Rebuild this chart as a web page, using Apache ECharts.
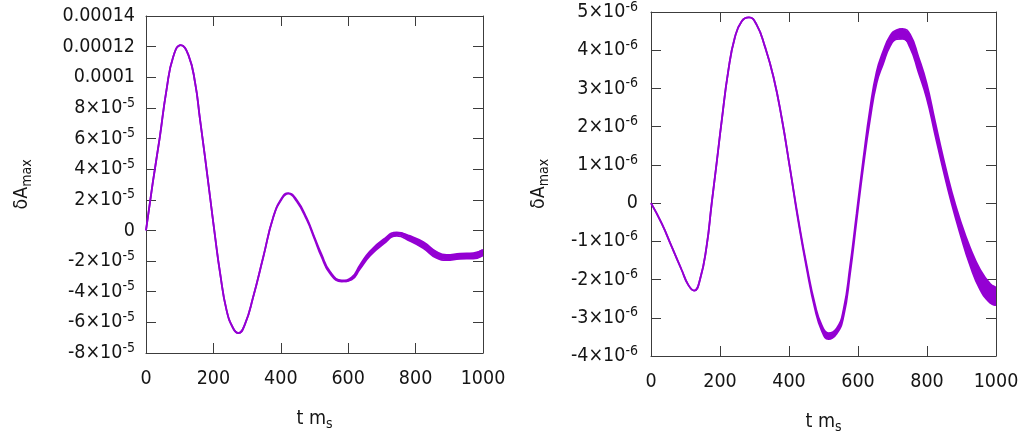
<!DOCTYPE html>
<html>
<head>
<meta charset="utf-8">
<script src="https://cdn.jsdelivr.net/npm/echarts@6/dist/echarts.min.js"></script>
<style>
  html, body { margin: 0; padding: 0; background: #fff; }
  #chart { width: 1025px; height: 439px; }
</style>
</head>
<body>
<div id="chart"></div>
<script>
// left panel, values in units of 1e-5
const leftT = [0, 20, 41, 61, 81, 103, 126, 146, 160, 175, 190, 205, 220, 239, 259, 274, 294, 318, 348, 378,
  403, 422, 447, 477, 500, 520, 546, 581, 610, 635, 665, 704, 744, 783, 823, 862, 892, 932, 971, 1000]
const leftV = [0, 3.1, 6.1, 9.2, 11.35, 12.1, 11.45, 9.6, 7.3, 4.8, 2.2, -0.4, -2.8, -5.2, -6.4, -6.7, -6.1, -4.35, -1.73, 0.89,
  2.09, 2.42, 1.95, 0.75, -0.5, -1.6, -2.75, -3.3, -3.14, -2.38, -1.5, -0.74, -0.24, -0.52, -0.96, -1.6, -1.77, -1.68, -1.66, -1.45]
// half width of the fast oscillation band
const leftSpread = [0, 0, 0, 0, 0, 0, 0, 0, 0, 0, 0, 0, 0, 0, 0, 0, 0, 0, 0, 0,
  0.03, 0.02, 0.05, 0.05, 0.05, 0.08, 0.06, 0.04, 0.07, 0.13, 0.15, 0.15, 0.12, 0.16, 0.2, 0.2, 0.17, 0.17, 0.18, 0.19]
const leftYLabels = [['-8', '-5'], ['-6', '-5'], ['-4', '-5'], ['-2', '-5'], ['0', ''], ['2', '-5'], ['4', '-5'],
  ['6', '-5'], ['8', '-5'], ['0.0001', ''], ['0.00012', ''], ['0.00014', '']]

// right panel, values in units of 1e-6
const rightT = [0, 31, 60, 89, 108, 125, 142, 161, 176, 190, 205, 224, 243, 263, 284, 306, 330, 355, 379, 403,
  427, 451, 475, 495, 514, 538, 558, 577, 596, 615, 635, 654, 673, 693, 712, 729, 751, 775, 799, 823,
  847, 871, 896, 925, 954, 983, 1000]
const rightV = [0, -0.53, -1.14, -1.75, -2.14, -2.29, -2.0, -1.14, 0, 1.03, 2.16, 3.46, 4.33, 4.76, 4.86, 4.67, 4.1, 3.3, 2.22, 0.9,
  -0.45, -1.66, -2.7, -3.27, -3.48, -3.35, -2.88, -1.75, -0.36, 1.03, 2.33, 3.29, 3.81, 4.24, 4.41, 4.43, 4.24, 3.63, 2.94, 1.98,
  1.03, 0.16, -0.62, -1.4, -2.0, -2.36, -2.44]
const rightSpread = [0, 0, 0, 0, 0, 0, 0, 0, 0, 0, 0, 0, 0, 0, 0, 0, 0, 0, 0, 0,
  0.03, 0.04, 0.06, 0.07, 0.08, 0.07, 0.09, 0.1, 0.09, 0.1, 0.14, 0.15, 0.16, 0.13, 0.12, 0.13, 0.17, 0.2, 0.19, 0.17,
  0.16, 0.16, 0.18, 0.23, 0.26, 0.25, 0.23]
const rightYLabels = [['-4', '-6'], ['-3', '-6'], ['-2', '-6'], ['-1', '-6'], ['0', ''], ['1', '-6'], ['2', '-6'],
  ['3', '-6'], ['4', '-6'], ['5', '-6']]

const xTicks = [0, 200, 400, 600, 800, 1000]

const FONT = "'DejaVu Sans Condensed', 'DejaVu Sans', sans-serif"
const LINE = '#9400D3'
const AXIS = '#3c3c3c'
const TEXT = '#151515'
const SMOOTH = 0.5

const rich = {
  b: { fontSize: 19.5, fontFamily: FONT, color: TEXT },
  p: { fontSize: 14, fontFamily: FONT, color: TEXT, padding: [0, 0, 10, 0] },
  s: { fontSize: 14, fontFamily: FONT, color: TEXT, padding: [10, 0, 0, 0] }
}

const yFormatter = (labels, min, step) => (v) => {
  const lab = labels[Math.round((v - min) / step)]
  if (!lab) return ''
  return lab[1] ? `{b|${lab[0]}×10}{p|${lab[1]}}` : `{b|${lab[0]}}`
}

const tickCfg = { show: true, inside: true, length: 10, lineStyle: { color: AXIS, width: 1 } }
const lineCfg = { show: true, onZero: false, lineStyle: { color: AXIS, width: 1 } }

function xAxes(gridIndex) {
  const base = {
    gridIndex, type: 'value', min: 0, max: 1000, interval: 200,
    axisLine: lineCfg, axisTick: tickCfg, splitLine: { show: false }
  }
  return [
    {
      ...base, position: 'bottom',
      axisLabel: { margin: 16, fontSize: 19.5, fontFamily: FONT, color: TEXT, formatter: (v) => xTicks.includes(v) ? String(v) : '' },
      name: '{b|t m}{s|s}', nameLocation: 'middle', nameGap: 54,
      nameTextStyle: { rich }
    },
    { ...base, position: 'top', axisLabel: { show: false } }
  ]
}

function yAxes(gridIndex, min, max, step, labels, margin, nameGap) {
  const base = {
    gridIndex, type: 'value', min, max, interval: step,
    axisLine: lineCfg, axisTick: tickCfg, splitLine: { show: false }
  }
  return [
    {
      ...base, position: 'left',
      axisLabel: { margin, formatter: yFormatter(labels, min, step), rich },
      name: '{b|δA}{s|max}', nameLocation: 'middle', nameGap, nameRotate: 90,
      nameTextStyle: { rich }
    },
    { ...base, position: 'right', axisLabel: { show: false } }
  ]
}

function curveSeries(t, v, spread, xAxisIndex, yAxisIndex) {
  const line = {
    type: 'line', xAxisIndex, yAxisIndex, showSymbol: false, symbol: 'none',
    smooth: SMOOTH, silent: true,
    lineStyle: { width: 1.8, color: LINE }
  }
  return [
    {
      // envelope of the fast oscillation, filled between v - spread and v + spread
      type: 'custom', xAxisIndex, yAxisIndex, silent: true, clip: true,
      data: [[t[0], v[0]]],
      renderItem: (params, api) => {
        const up = t.map((x, i) => api.coord([x, v[i] + spread[i]]))
        const dn = t.map((x, i) => api.coord([x, v[i] - spread[i]])).reverse()
        return {
          type: 'polygon',
          shape: { points: up.concat(dn), smooth: SMOOTH },
          style: { fill: LINE }
        }
      }
    },
    { ...line, data: t.map((x, i) => [x, v[i] + spread[i]]) },
    { ...line, data: t.map((x, i) => [x, v[i] - spread[i]]) }
  ]
}

const chart = echarts.init(document.getElementById('chart'), null, { renderer: 'canvas' })
chart.setOption({
  animation: false,
  backgroundColor: '#fff',
  grid: [
    { left: 146, top: 16, width: 337, height: 337 },
    { left: 651, top: 11, width: 345, height: 346 }
  ],
  xAxis: [...xAxes(0), ...xAxes(1)],
  yAxis: [...yAxes(0, -8, 14, 2, leftYLabels, 11, 112), ...yAxes(1, -4, 5, 1, rightYLabels, 13, 100)],
  series: [
    ...curveSeries(leftT, leftV, leftSpread, 0, 0),
    ...curveSeries(rightT, rightV, rightSpread, 2, 2)
  ]
})
</script>
</body>
</html>
